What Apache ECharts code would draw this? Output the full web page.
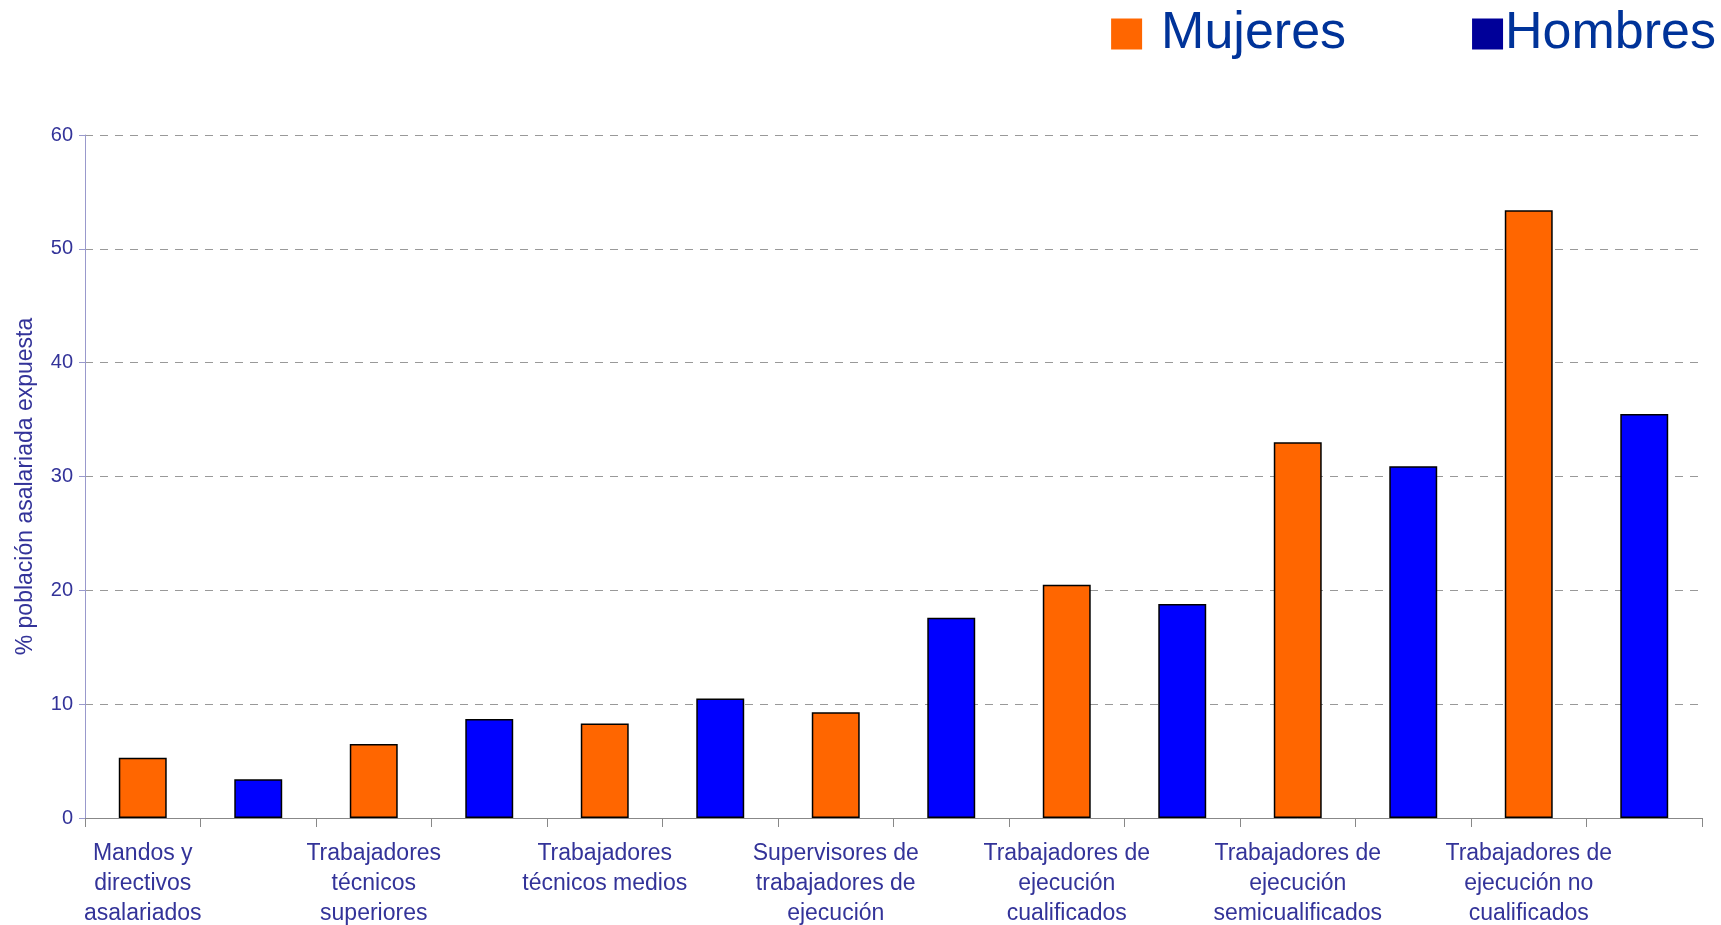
<!DOCTYPE html>
<html>
<head>
<meta charset="utf-8">
<script src="https://cdn.jsdelivr.net/npm/echarts@6/dist/echarts.min.js"></script>
<style>
  html, body { margin: 0; padding: 0; background: #fff; }
  #chart { width: 1721px; height: 925px; }
</style>
</head>
<body>
<div id="chart"></div>
<script>
const categories = [
  'Mandos y\ndirectivos\nasalariados',
  'Trabajadores\ntécnicos\nsuperiores',
  'Trabajadores\ntécnicos medios',
  'Supervisores de\ntrabajadores de\nejecución',
  'Trabajadores de\nejecución\ncualificados',
  'Trabajadores de\nejecución\nsemicualificados',
  'Trabajadores de\nejecución no\ncualificados'
];
const mujeres = [5.3, 6.5, 8.3, 9.3, 20.5, 33.0, 53.4];
const hombres = [3.4, 8.7, 10.5, 17.6, 18.8, 30.9, 35.5];
const yTicks = [0, 10, 20, 30, 40, 50, 60];

// each group takes two slots on the axis: women then men
const axisData = [];
const mujeresData = [];
const hombresData = [];
categories.forEach((c, i) => {
  axisData.push(c, '');
  mujeresData.push(mujeres[i], '-');
  hombresData.push('-', hombres[i]);
});

const textColor = '#333399';
const chart = echarts.init(document.getElementById('chart'));

chart.setOption({
  animation: false,
  legend: {
    top: 3,
    right: 0,
    itemWidth: 31,
    itemHeight: 31,
    itemGap: 126,
    icon: 'rect',
    textStyle: { color: '#003399', fontSize: 52, fontFamily: 'Liberation Sans' },
    formatter: name => name === 'Mujeres' ? '{a|' + name + '}' : '{b|' + name + '}',
    data: [
      { name: 'Mujeres', itemStyle: { color: '#FF6600', borderWidth: 0 },
        textStyle: { rich: { a: { fontSize: 52, color: '#003399', padding: [0, 0, 0, 14], fontFamily: 'Liberation Sans' } } } },
      { name: 'Hombres', itemStyle: { color: '#000099', borderWidth: 0 },
        textStyle: { rich: { b: { fontSize: 52, color: '#003399', padding: [0, 0, 0, -3], fontFamily: 'Liberation Sans' } } } }
    ]
  },
  grid: { left: 85, right: 19, top: 135, bottom: 107, containLabel: false, outerBoundsMode: 'none' },
  xAxis: {
    type: 'category',
    data: axisData,
    axisLine: { lineStyle: { color: '#888888', width: 1 } },
    axisTick: { show: true, length: 9, interval: 0, lineStyle: { color: '#888888' } },
    axisLabel: {
      interval: 0,
      margin: 21,
      color: textColor,
      fontSize: 23,
      lineHeight: 30,
      fontFamily: 'Liberation Sans'
    }
  },
  yAxis: {
    type: 'value',
    min: yTicks[0],
    max: yTicks[yTicks.length - 1],
    interval: 10,
    name: '% población asalariada expuesta',
    nameLocation: 'middle',
    nameRotate: 90,
    nameGap: 48,
    nameTextStyle: { color: textColor, fontSize: 23, fontFamily: 'Liberation Sans', padding: [0, 20, 0, 0] },
    axisLine: { show: true, lineStyle: { color: '#9999CC', width: 1 } },
    axisTick: { show: true, length: 6, lineStyle: { color: '#9999CC' } },
    axisLabel: { color: textColor, fontSize: 20, margin: 12, fontFamily: 'Liberation Sans' },
    splitLine: { lineStyle: { color: '#999999', type: [8, 7], width: 1 } }
  },
  series: [
    {
      name: 'Mujeres',
      type: 'bar',
      data: mujeresData,
      barWidth: '41.5%',
      barGap: '-100%',
      itemStyle: { color: '#FF6600', borderColor: '#000000', borderWidth: 1.5 }
    },
    {
      name: 'Hombres',
      type: 'bar',
      data: hombresData,
      barWidth: '41.5%',
      barGap: '-100%',
      itemStyle: { color: '#0000FF', borderColor: '#000000', borderWidth: 1.5 }
    }
  ]
});
</script>
</body>
</html>
